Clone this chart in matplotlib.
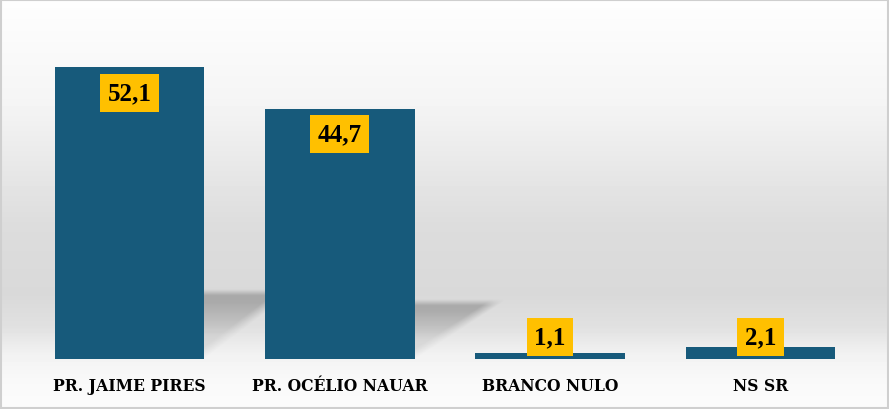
import numpy as np
import matplotlib.pyplot as plt
from matplotlib import font_manager

categories = ["PR. JAIME PIRES", "PR. OCÉLIO NAUAR", "BRANCO NULO", "NS SR"]
values = [52.1, 44.7, 1.1, 2.1]
value_labels = ["52,1", "44,7", "1,1", "2,1"]

bar_color = "#175a7b"
label_bg = "#ffc000"

plt.rcParams['font.family'] = ['Liberation Serif', 'DejaVu Serif']

# fonte condensada para os rótulos, se existir
cond = [f.fname for f in font_manager.fontManager.ttflist
        if f.name == 'DejaVu Serif' and f.stretch == 'condensed' and f.weight == 700]

fig = plt.figure(figsize=(8.89, 4.10), dpi=100)

# fundo com degradê
bg = fig.add_axes([0, 0, 1, 1], zorder=0)
t = np.linspace(0, 1, 410)
g = np.interp(t, [0, 0.25, 0.55, 0.72, 0.80, 0.87, 0.93, 1.0],
              [0.995, 0.96, 0.865, 0.85, 0.88, 0.95, 0.975, 0.985])
img = np.repeat(g[:, None], 10, axis=1)
bg.imshow(img, cmap='gray', vmin=0, vmax=1, aspect='auto', extent=[0, 1, 0, 1])
bg.set_xlim(0, 1)
bg.set_ylim(0, 1)
bg.axis('off')
bg.add_patch(plt.Rectangle((0.001, 0.002), 0.998, 0.995, fill=False,
                           edgecolor='#cfcfcf', lw=1.5, transform=bg.transAxes))

ax = fig.add_axes([24.5 / 889, 50 / 410, 841 / 889, 336 / 410], zorder=1)
ax.patch.set_alpha(0)
x = np.arange(len(categories))
width = 0.71

# sombras atrás das barras grandes
for xi, v in zip(x, values):
    if v < 20:
        continue
    xr = xi + width / 2
    top = 0.23 * v
    sw = 0.42
    x0, x1, y0, y1 = xr, xr + sw + 0.1, 0, top + 1.5
    xx, yy = np.meshgrid(np.linspace(x0, x1, 120), np.linspace(y1, y0, 200))
    u = (xx - xr) / sw
    r = yy / top
    diag = np.clip((r - u) / 0.18, 0, 1)
    above = np.clip((top + 0.4 - yy) / 1.1, 0, 1)
    depth = 0.35 + 0.65 * np.clip((r - 0.35) / 0.5, 0, 1)
    a = 0.38 * diag * above * depth
    rgba = np.zeros(xx.shape + (4,))
    rgba[..., :3] = 0.35
    rgba[..., 3] = a
    ax.imshow(rgba, extent=[x0, x1, y0, y1], aspect='auto', zorder=1,
              interpolation='bilinear')

ax.bar(x, values, width=width, color=bar_color, zorder=2)

for xi, v, lab in zip(x, values, value_labels):
    if v > 10:
        y, off = v, -25.5
    else:
        y, off = 0, 22.5
    ax.annotate(lab, (xi, y), xytext=(0, off * 0.72), textcoords='offset points',
                ha='center', va='center', fontsize=18, fontweight='bold',
                color='black', zorder=3,
                bbox=dict(boxstyle='square,pad=0.3', facecolor=label_bg,
                          edgecolor='none'))

ax.set_xlim(-0.5, 3.5)
ax.set_ylim(0, 60)
ax.set_xticks(x)
if cond:
    ax.set_xticklabels(categories, fontsize=12.5, fontweight='bold',
                       family='DejaVu Serif', fontstretch='condensed')
else:
    ax.set_xticklabels(categories, fontsize=13, fontweight='bold')
ax.tick_params(axis='x', length=0, pad=13)
ax.set_yticks([])
for sp in ax.spines.values():
    sp.set_visible(False)

fig.savefig("out.png", dpi=100)
